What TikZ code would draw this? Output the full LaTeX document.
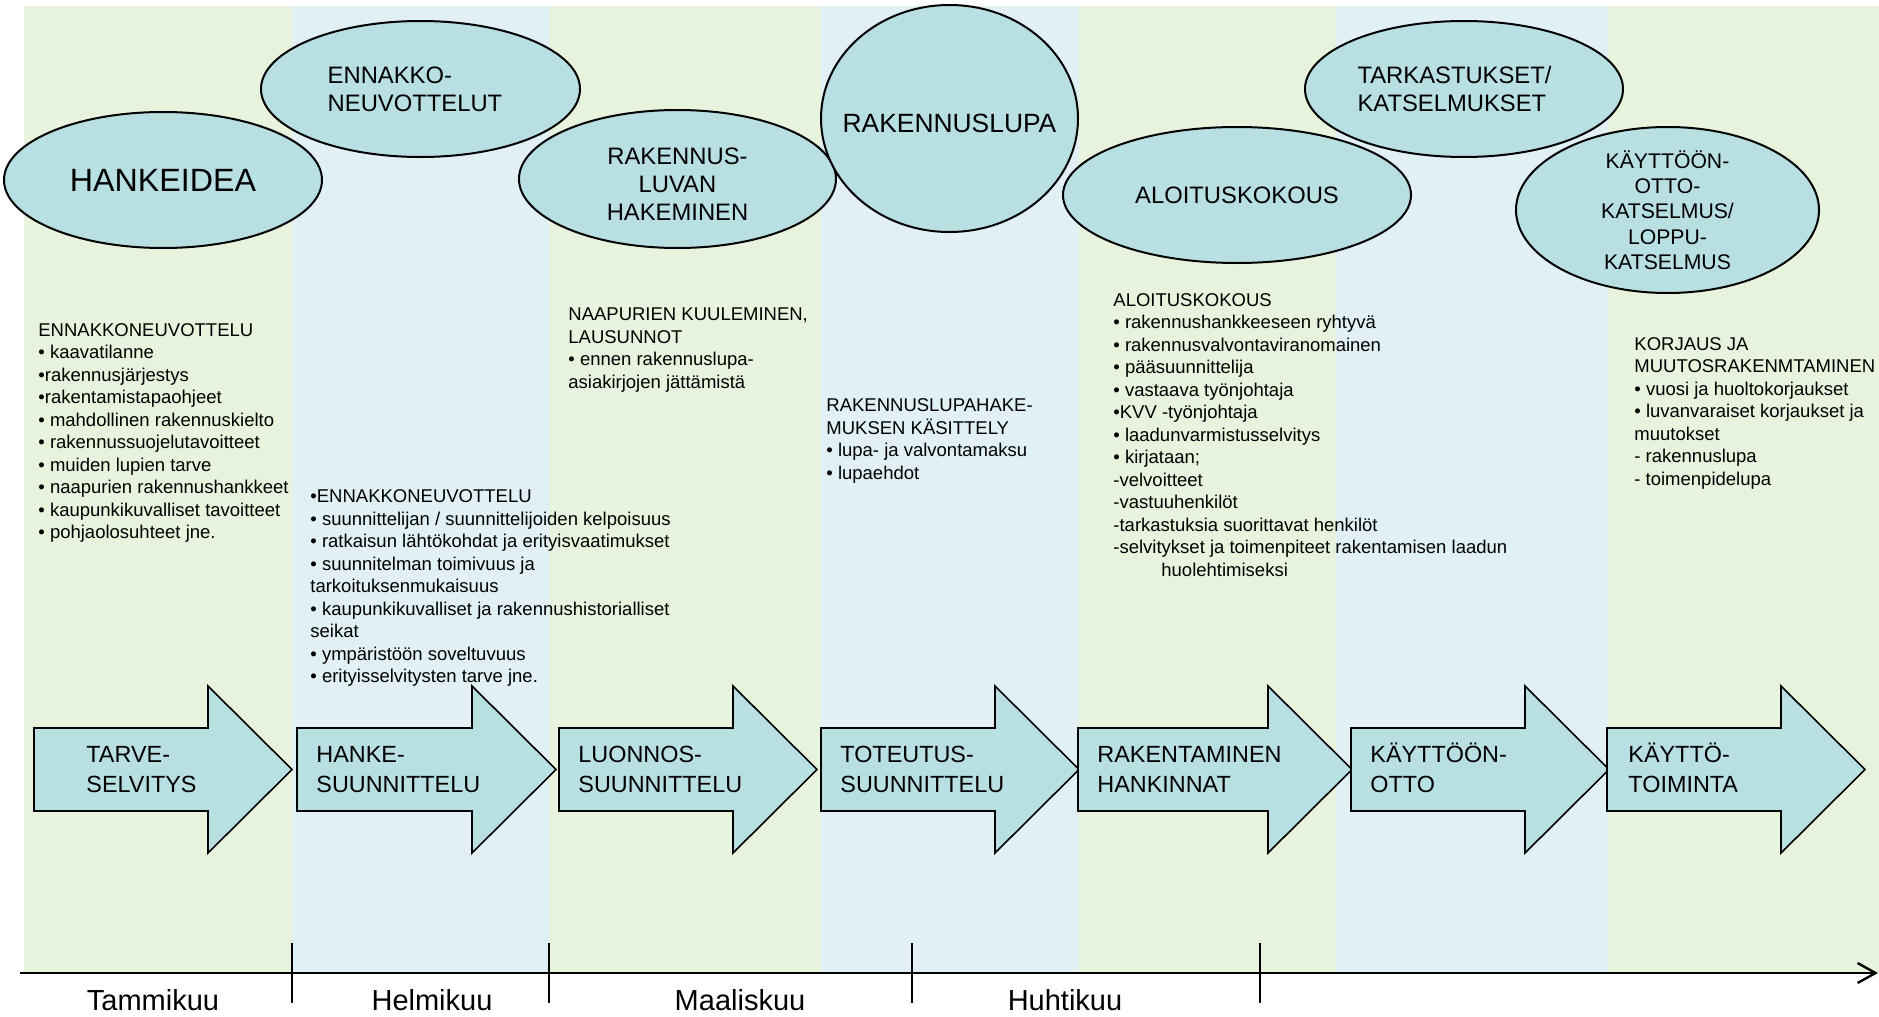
\documentclass[tikz,border=0pt]{standalone}
\usepackage{fontspec}
\setmainfont{Liberation Sans}
\usepackage{tikz}
\usetikzlibrary{arrows.meta,shapes.geometric}
\usepackage{xcolor}
\definecolor{stripegreen}{HTML}{E7F3DD}
\definecolor{stripeblue}{HTML}{E0F0F4}
\definecolor{bubblefill}{HTML}{B8DFE2}

\begin{document}
\begin{tikzpicture}[x=0.5pt, y=-0.5pt,
  bubble/.style={ellipse, draw, line width=1pt, fill=bubblefill, inner sep=0pt},
  bubbletext/.style={inner sep=0pt, font=\fontsize{11.9}{14}\selectfont},
  phase/.style={draw, line width=0.8pt, fill=bubblefill},
  phasetext/.style={anchor=west, align=left, inner sep=0pt, font=\fontsize{11.7}{15}\selectfont},
  notes/.style={anchor=north west, align=left, inner sep=0pt, font=\fontsize{9.25}{11.25}\selectfont},
  month/.style={anchor=base, font=\fontsize{14.5}{17}\selectfont}]

\useasboundingbox (0,0) rectangle (1879,1017);

% background stripes
\foreach \a/\b/\c in {24/292/stripegreen, 292/549/stripeblue, 549/821/stripegreen, 821/1079/stripeblue,
                      1079/1336/stripegreen, 1336/1608/stripeblue, 1608/1879/stripegreen}{
  \fill[fill=\c] (\a,6) rectangle (\b,973);
}

% time axis with month ticks
\coordinate (axisL) at (20,973);
\coordinate (axisR) at (1878,973);
\draw[line width=1.2pt, -{Straight Barb[length=9pt, width=10pt]}] (axisL) -- (axisR);
\foreach \x in {292, 549, 912, 1260}{
  \draw[line width=0.6pt] (\x,943) -- (\x,1003);
}
\foreach \i/\x/\m in {1/153/Tammikuu, 2/432/Helmikuu, 3/740/Maaliskuu, 4/1065/Huhtikuu}{
  \node[month] (month\i) at (\x,1010) {\m};
}

% phase arrows: body 728..811, head 686..853
\foreach \i/\x/\len/\tx/\txt in {1/34/174/86/{TARVE-\\SELVITYS}, 2/297/175/316/{HANKE-\\SUUNNITTELU},
    3/559/174/578/{LUONNOS-\\SUUNNITTELU}, 4/821/174/840/{TOTEUTUS-\\SUUNNITTELU},
    5/1078/190/1097/{RAKENTAMINEN\\HANKINNAT}, 6/1351/174/1370/{KÄYTTÖÖN-\\OTTO},
    7/1607/174/1628/{KÄYTTÖ-\\TOIMINTA}}{
  \draw[phase] (\x,728) -- ++(\len,0) -- ++(0,-42) -- ++(84,83.5) -- ++(-84,83.5)
    -- ++(0,-42) -- ++(-\len,0) -- cycle;
  \node[phasetext] (phase\i) at (\tx,767.5) {\vphantom{Ä}\txt};
}

% ellipses
\foreach \n/\x/\y/\w/\h in {idea/163/180/159/68, ennakko/420.5/89/159.5/68, haku/677.5/179/158.5/69,
    lupa/949.5/118.5/128.5/113.5, aloitus/1237/195/174/68, tarkastus/1464/89/159/68,
    kaytto/1667.5/210/151.5/83}{
  \node[bubble, minimum width=\w pt, minimum height=\h pt] (\n) at (\x,\y) {};
}
\node[bubbletext, font=\fontsize{16.1}{18}\selectfont] (ideatext) at (idea) {HANKEIDEA};
\node[bubbletext, align=left] (ennakkotext) at ([xshift=-2.75pt]ennakko.center) {ENNAKKO-\\NEUVOTTELUT};
\node[bubbletext, align=center] (hakutext) at ([yshift=-2.5pt]haku.center) {RAKENNUS-\\LUVAN\\HAKEMINEN};
\node[bubbletext, font=\fontsize{13.2}{16}\selectfont] (lupatext) at ([yshift=-2.25pt]lupa.center) {RAKENNUSLUPA};
\node[bubbletext] (aloitustext) at (aloitus) {ALOITUSKOKOUS};
\node[bubbletext, align=left] (tarkastustext) at ([xshift=-4.75pt]tarkastus.center) {TARKASTUKSET/\\KATSELMUKSET};
\node[bubbletext, align=center, font=\fontsize{10.6}{12.65}\selectfont] (kayttotext) at (kaytto)
  {KÄYTTÖÖN-\\OTTO-\\KATSELMUS/\\LOPPU-\\KATSELMUS};

% notes under the ellipses
\node[notes] (neuvottelu) at (38,323) {ENNAKKONEUVOTTELU\\• kaavatilanne\\•rakennusjärjestys\\%
  •rakentamistapaohjeet\\• mahdollinen rakennuskielto\\• rakennussuojelutavoitteet\\%
  • muiden lupien tarve\\• naapurien rakennushankkeet\\• kaupunkikuvalliset tavoitteet\\%
  • pohjaolosuhteet jne.};
\node[notes] (suunnittelu) at (310,489.5) {•ENNAKKONEUVOTTELU\\%
  • suunnittelijan / suunnittelijoiden kelpoisuus\\• ratkaisun lähtökohdat ja erityisvaatimukset\\%
  • suunnitelman toimivuus ja\\tarkoituksenmukaisuus\\%
  • kaupunkikuvalliset ja rakennushistorialliset\\seikat\\• ympäristöön soveltuvuus\\%
  • erityisselvitysten tarve jne.};
\node[notes] (naapurit) at (568,307.5) {NAAPURIEN KUULEMINEN,\\LAUSUNNOT\\• ennen rakennuslupa-\\%
  asiakirjojen jättämistä};
\node[notes] (kasittely) at (826,398.5) {RAKENNUSLUPAHAKE-\\MUKSEN KÄSITTELY\\%
  • lupa- ja valvontamaksu\\• lupaehdot};
\node[notes] (kokous) at (1113,293) {ALOITUSKOKOUS\\• rakennushankkeeseen ryhtyvä\\%
  • rakennusvalvontaviranomainen\\• pääsuunnittelija\\• vastaava työnjohtaja\\%
  •KVV -työnjohtaja\\• laadunvarmistusselvitys\\• kirjataan;\\-velvoitteet\\-vastuuhenkilöt\\%
  -tarkastuksia suorittavat henkilöt\\-selvitykset ja toimenpiteet rakentamisen laadun\\%
  \hspace*{24pt}huolehtimiseksi};
\node[notes] (korjaus) at (1634,337) {KORJAUS JA\\MUUTOSRAKENMTAMINEN\\%
  • vuosi ja huoltokorjaukset\\• luvanvaraiset korjaukset ja\\muutokset\\- rakennuslupa\\%
  - toimenpidelupa};

\end{tikzpicture}
\end{document}
